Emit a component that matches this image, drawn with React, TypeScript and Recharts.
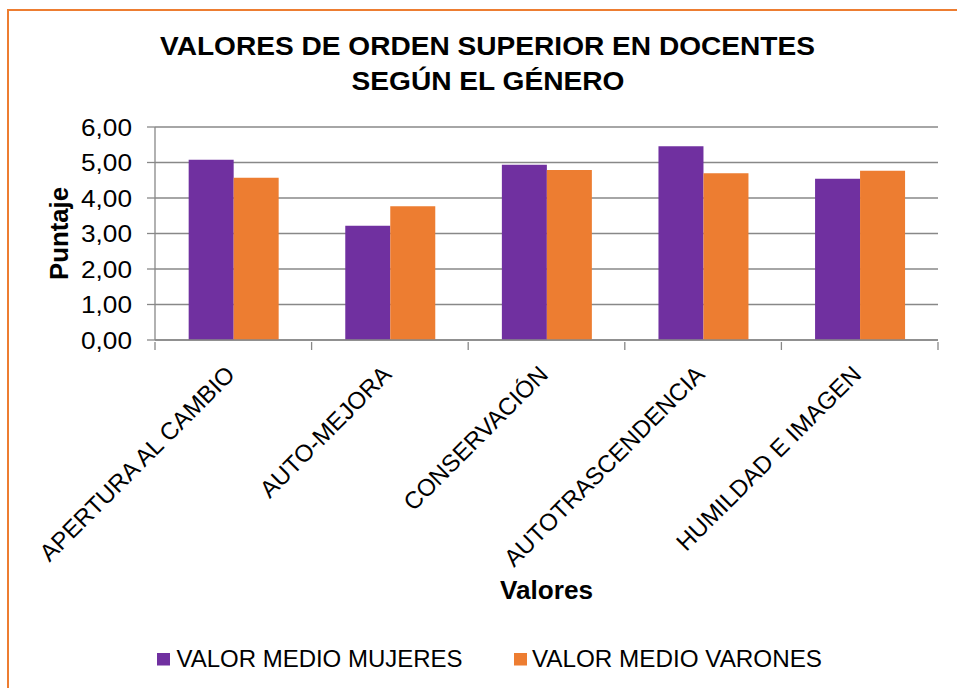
import React from 'react';
import { BarChart, Bar, XAxis, YAxis, CartesianGrid } from 'recharts';

const categories = ['APERTURA AL CAMBIO', 'AUTO-MEJORA', 'CONSERVACIÓN', 'AUTOTRASCENDENCIA', 'HUMILDAD E IMAGEN'];
const mujeres = [5.08, 3.22, 4.94, 5.46, 4.54];
const varones = [4.57, 3.77, 4.79, 4.70, 4.77];
const yTicks = [0, 1, 2, 3, 4, 5, 6];
const seriesNames = ['VALOR MEDIO MUJERES', 'VALOR MEDIO VARONES'];
const titleLines = ['VALORES DE ORDEN SUPERIOR EN DOCENTES', 'SEGÚN EL GÉNERO'];

const data = categories.map((c, i) => ({ name: c, mujeres: mujeres[i], varones: varones[i] }));

const PURPLE = '#7030A0';
const ORANGE = '#ED7D31';
const GRID = '#888888';
const FONT = '"Liberation Sans", Arial, sans-serif';

const XTick = (props: any) => {
  const { x, y, payload, index } = props;
  const off = payload.offset || 0;
  const isLast = index === categories.length - 1;
  return (
    <g>
      <line x1={x - off} y1={y - 8} x2={x - off} y2={y} stroke={GRID} strokeWidth={1.3} />
      {isLast && <line x1={x + off} y1={y - 8} x2={x + off} y2={y} stroke={GRID} strokeWidth={1.3} />}
      <text
        x={x + 3}
        y={y + 26}
        textAnchor="end"
        transform={`rotate(-45, ${x + 3}, ${y + 26})`}
        fontSize={24}
        fontFamily={FONT}
        fill="#000"
      >
        {payload.value}
      </text>
    </g>
  );
};

const YTick = (props: any) => {
  const { x, y, payload } = props;
  const label = Number(payload.value).toFixed(2).replace('.', ',');
  return (
    <text x={x} y={y} textAnchor="end" dominantBaseline="central" fontSize={24} fontFamily={FONT} fill="#000" textLength={51} lengthAdjust="spacingAndGlyphs">
      {label}
    </text>
  );
};

export default function App() {
  return (
    <div style={{ position: 'absolute', left: 0, top: 0, width: 957, height: 688, overflow: 'hidden', background: '#fff' }}>
      <div style={{ position: 'absolute', left: 7, top: 9, width: 1100, height: 1100, borderTop: `2.5px solid ${ORANGE}`, borderLeft: `2.5px solid ${ORANGE}`, boxSizing: 'border-box' }} />
      <div style={{ position: 'absolute', left: 0, top: 0 }}>
        <BarChart
          width={957}
          height={688}
          data={data}
          margin={{ top: 127, right: 19, bottom: 0, left: 0 }}
          barCategoryGap="21.5%"
          barGap={0}
        >
          <CartesianGrid vertical={false} stroke={GRID} strokeWidth={1.3} />
          <XAxis
            dataKey="name"
            height={348}
            interval={0}
            tickLine={false}
            axisLine={{ stroke: GRID, strokeWidth: 1.3 }}
            tickSize={8}
            tick={<XTick />}
            label={{
              content: (p: any) => {
                const vb = p.viewBox;
                return (
                  <text x={vb.x + vb.width / 2} y={vb.y + 250} textAnchor="middle" dominantBaseline="central" fontSize={25} fontWeight="bold" fontFamily={FONT} fill="#000" textLength={93} lengthAdjust="spacingAndGlyphs">
                    Valores
                  </text>
                );
              },
            }}
          />
          <YAxis
            width={155}
            domain={[0, 6]}
            ticks={yTicks}
            interval={0}
            tickSize={8}
            tickMargin={15}
            tickLine={{ stroke: GRID, strokeWidth: 1.3 }}
            axisLine={{ stroke: GRID, strokeWidth: 1.3 }}
            tick={<YTick />}
            label={{
              content: (p: any) => {
                const vb = p.viewBox;
                const cx = vb.x + 59;
                const cy = vb.y + vb.height / 2;
                return (
                  <text x={cx} y={cy} textAnchor="middle" dominantBaseline="central" transform={`rotate(-90, ${cx}, ${cy})`} fontSize={25} fontWeight="bold" fontFamily={FONT} fill="#000" textLength={93} lengthAdjust="spacingAndGlyphs">
                    Puntaje
                  </text>
                );
              },
            }}
          />
          <Bar dataKey="mujeres" name={seriesNames[0]} fill={PURPLE} isAnimationActive={false} />
          <Bar dataKey="varones" name={seriesNames[1]} fill={ORANGE} isAnimationActive={false} />
        </BarChart>
      </div>
      <svg width={957} height={688} style={{ position: 'absolute', left: 0, top: 0, pointerEvents: 'none' }}>
        <text x={487.5} y={55} textAnchor="middle" fontSize={26} fontWeight="bold" fontFamily={FONT} fill="#000" textLength={655} lengthAdjust="spacingAndGlyphs">{titleLines[0]}</text>
        <text x={488} y={90} textAnchor="middle" fontSize={26} fontWeight="bold" fontFamily={FONT} fill="#000" textLength={273} lengthAdjust="spacingAndGlyphs">{titleLines[1]}</text>
        <rect x={157} y={653} width={13} height={12.5} fill={PURPLE} />
        <text x={176.5} y={666.5} fontSize={23} fontFamily={FONT} fill="#000" textLength={286} lengthAdjust="spacingAndGlyphs">{seriesNames[0]}</text>
        <rect x={514} y={653} width={13} height={12.5} fill={ORANGE} />
        <text x={532} y={666.5} fontSize={23} fontFamily={FONT} fill="#000" textLength={290} lengthAdjust="spacingAndGlyphs">{seriesNames[1]}</text>
      </svg>
    </div>
  );
}
